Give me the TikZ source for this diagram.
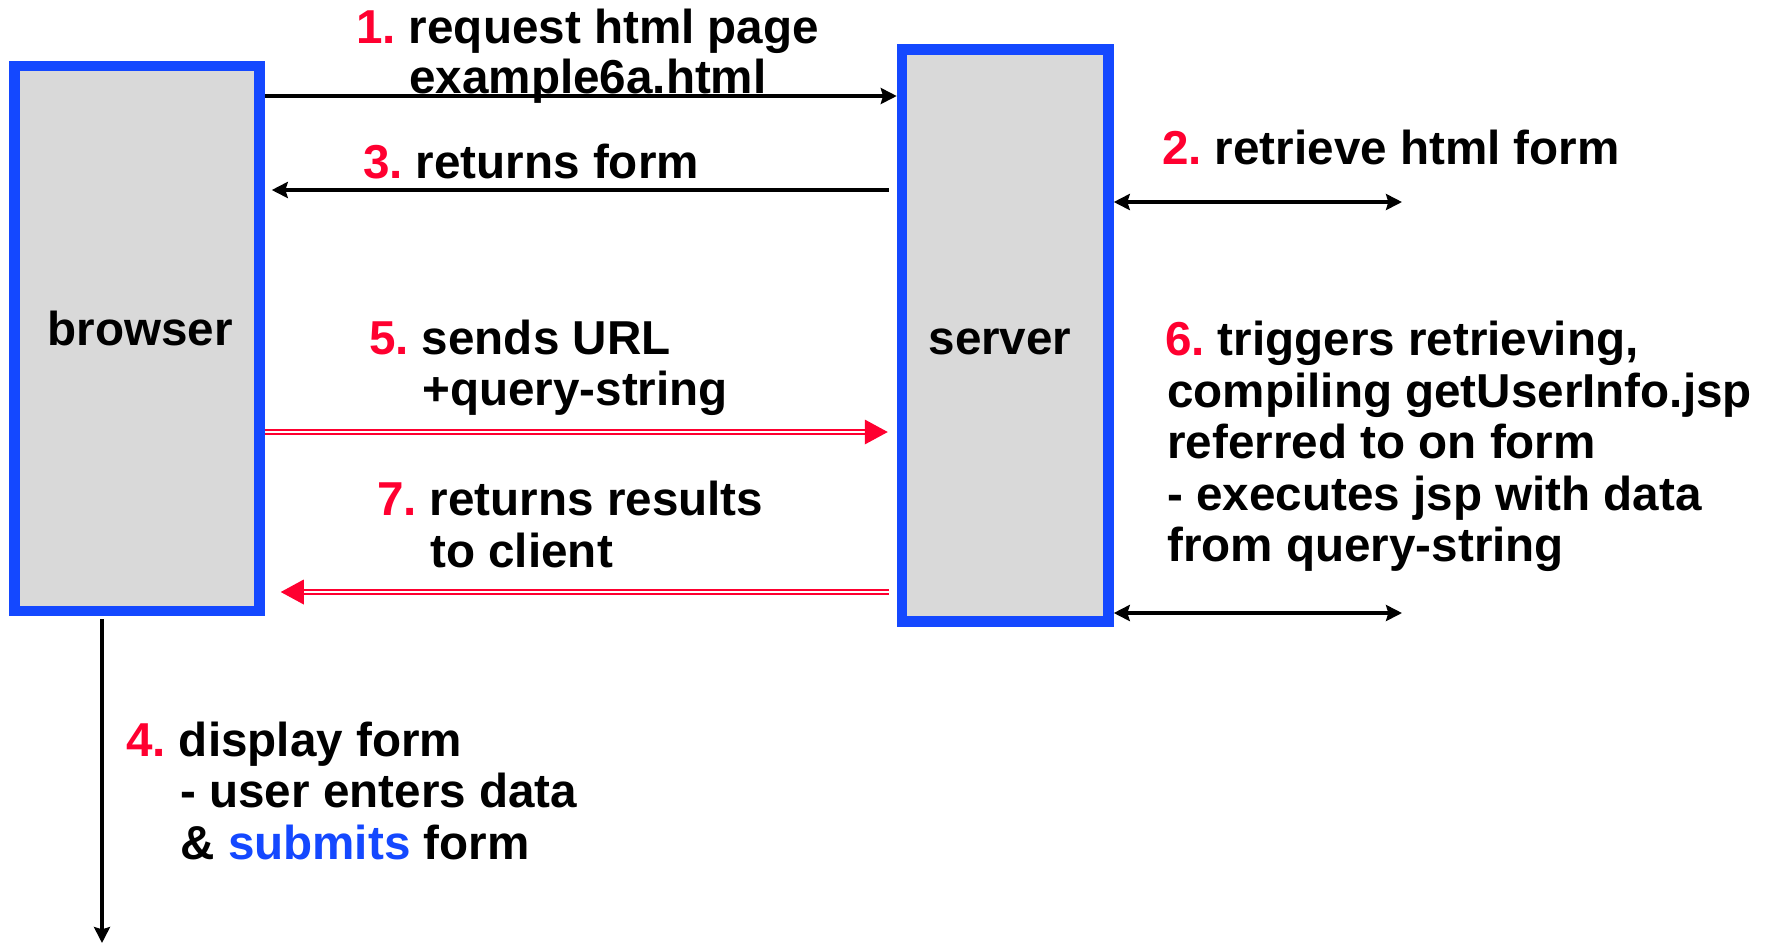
\documentclass[tikz,border=0pt]{standalone}
\usepackage{fontspec}
\setmainfont{Liberation Sans}
\usetikzlibrary{arrows.meta,calc}
\definecolor{bblue}{RGB}{20,72,255}
\definecolor{rred}{RGB}{255,0,48}
\definecolor{boxgray}{RGB}{217,217,217}
\newcommand{\rn}[1]{\textcolor{rred}{#1}\hspace{0.27em}}
\begin{document}
\begin{tikzpicture}[x=0.5pt,y=-0.5pt,
  >={Stealth[length=8pt,width=8pt,inset=1.2pt]},
  box/.style={draw=bblue, fill=boxgray, line width=5.25pt, inner sep=0pt},
  txt/.style={anchor=base west, inner sep=0pt, font=\fontsize{23.8}{25.75}\bfseries\selectfont},
  ctxt/.style={anchor=base, inner sep=0pt, font=\fontsize{23.8}{25.75}\bfseries\selectfont},
  blk/.style={draw=black, line width=2pt},
  redarr/.style={draw=rred, line width=1pt, double=white, double distance=1.2pt},
  redtip/.style={fill=rred}
]
\useasboundingbox (0,0) rectangle (1774,944);

% boxes
\node[box, minimum width=122.5pt, minimum height=272.5pt] (browser) at (137,338.5) {};
\node[box, minimum width=103.25pt, minimum height=286pt] (server) at (1005.25,335.5) {};
\node[ctxt] (browserlbl) at (140,345) {browser};
\node[ctxt] (serverlbl) at (1000,354) {server};

% 1. request
\draw[blk,->] (browser.east |- 0,96) -- (server.west |- 0,96);
\node[txt] (l1a) at (356,43) {\rn{1.}request html page};
\node[txt] (l1b) at (409,93) {example6a.html};

% 3. returns form
\draw[blk,->] ($(server.west |- 0,190)+(-8,0)$) -- ($(browser.east |- 0,190)+(7,0)$);
\node[txt] (l3) at (363,178) {\rn{3.}returns form};

% 2. retrieve html form
\coordinate (e2) at (1402,202);
\draw[blk,<->] (server.east |- e2) -- (e2);
\node[txt] (l2) at (1162,164) {\rn{2.}retrieve html form};

% 5. sends URL
\coordinate (t5) at ($(server.west |- 0,432)+(-9,0)$);
\draw[redarr] (browser.east |- t5) -- ($(t5)+(-21,0)$);
\fill[redtip] (t5) -- ++(-23,-12.5) -- ++(0,25) -- cycle;
\node[txt] (l5a) at (369,354) {\rn{5.}sends URL};
\node[txt] (l5b) at (422,405) {+query-string};

% 7. returns results
\coordinate (t7) at ($(browser.east |- 0,592)+(16,0)$);
\draw[redarr] ($(server.west |- t7)+(-8,0)$) -- ($(t7)+(21,0)$);
\fill[redtip] (t7) -- ++(23,-12.5) -- ++(0,25) -- cycle;
\node[txt] (l7a) at (377,515) {\rn{7.}returns results};
\node[txt] (l7b) at (430,567) {to client};

% 6. triggers
\coordinate (e6) at (1402,613);
\draw[blk,<->] (server.east |- e6) -- (e6);
\node[txt] (l6a) at (1165,355) {\rn{6.}triggers retrieving,};
\node[txt] (l6b) at (1167,407) {compiling getUserInfo.jsp};
\node[txt] (l6c) at (1167,458) {referred to on form};
\node[txt] (l6d) at (1167,510) {- executes jsp with data};
\node[txt] (l6e) at (1167,561) {from query-string};

% 4. display form
\coordinate (e4) at (102,943);
\draw[blk, ->] ($(browser.south -| e4)+(0,3)$) -- (e4);
\node[txt] (l4a) at (126,756) {\rn{4.}display form};
\node[txt] (l4b) at (180,807) {- user enters data};
\node[txt] (l4c) at (180,859) {\& \textcolor{bblue}{submits} form};
\end{tikzpicture}
\end{document}
